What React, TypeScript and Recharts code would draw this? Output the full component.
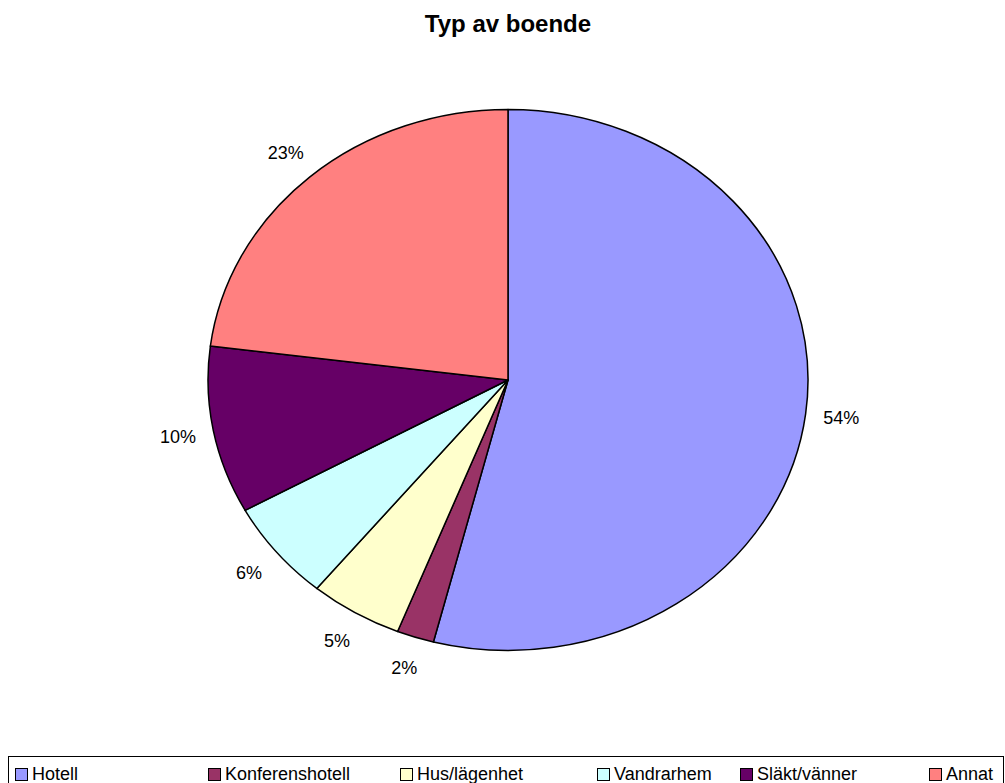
import React from 'react';
import { PieChart, Pie, Cell, Legend } from 'recharts';

const categories = ['Hotell', 'Konferenshotell', 'Hus/lägenhet', 'Vandrarhem', 'Släkt/vänner', 'Annat'];
const shares = [54, 2, 5, 6, 10, 23];
const colors = ['#9999FF', '#993366', '#FFFFCC', '#CCFFFF', '#660066', '#FF8080'];

// legend item left edges, as in the original sheet
const legendX = [14, 207, 399, 596, 739, 928];

const data = categories.map((name, i) => ({ name, value: shares[i] }));

const FONT = '"Liberation Sans", Arial, sans-serif';
const SQUASH = 0.9017; // the pie is drawn as an ellipse

const RAD = Math.PI / 180;

// elliptical sector instead of recharts' circular one
const EllipseSector = (props: any) => {
  const { cx, cy, outerRadius, startAngle, endAngle, fill } = props;
  const rx = outerRadius;
  const ry = outerRadius * SQUASH;
  const x1 = cx + rx * Math.cos(startAngle * RAD);
  const y1 = cy - ry * Math.sin(startAngle * RAD);
  const x2 = cx + rx * Math.cos(endAngle * RAD);
  const y2 = cy - ry * Math.sin(endAngle * RAD);
  const large = Math.abs(endAngle - startAngle) > 180 ? 1 : 0;
  const sweep = startAngle > endAngle ? 1 : 0;
  const d = `M${cx},${cy} L${x1},${y1} A${rx},${ry} 0 ${large} ${sweep} ${x2},${y2} Z`;
  return <path d={d} fill={fill} stroke="#000" strokeWidth={1.5} strokeLinejoin="round" />;
};

const renderLabel = (props: any) => {
  const { cx, cy, midAngle, outerRadius, value } = props;
  const k = 1.12;
  const x = cx + outerRadius * k * Math.cos(midAngle * RAD);
  const y = cy - outerRadius * SQUASH * k * Math.sin(midAngle * RAD);
  return (
    <text x={x} y={y} textAnchor="middle" dominantBaseline="central" fill="#000" fontSize={18} fontFamily={FONT}>
      {value}%
    </text>
  );
};

const renderLegend = () => (
  <div style={{ position: 'relative', width: 996, height: 40, borderTop: '1px solid #000', borderLeft: '1px solid #000', borderRight: '1px solid #000', boxSizing: 'border-box' }}>
    {categories.map((name, i) => (
      <div key={name} style={{ position: 'absolute', left: legendX[i] - 8, top: 8, display: 'flex', alignItems: 'center', fontFamily: FONT, fontSize: 18, color: '#000', whiteSpace: 'nowrap', lineHeight: '18px' }}>
        <span style={{ display: 'inline-block', width: 11, height: 11, background: colors[i], border: '1.5px solid #000', marginRight: 4 }} />
        {name}
      </div>
    ))}
  </div>
);

const App: React.FC = () => {
  return (
    <div style={{ position: 'absolute', left: 0, top: 0, width: 1005, height: 783, background: '#fff', overflow: 'hidden' }}>
      <PieChart width={1005} height={783} margin={{ top: 0, right: 0, bottom: 0, left: 0 }}>
        <text x={508} y={32} textAnchor="middle" fontFamily={FONT} fontSize={24} fontWeight="bold" fill="#000">
          Typ av boende
        </text>
        <Pie
          data={data}
          dataKey="value"
          nameKey="name"
          cx={508}
          cy={380}
          outerRadius={300}
          startAngle={90}
          endAngle={-270}
          label={renderLabel}
          labelLine={false}
          shape={EllipseSector}
          inactiveShape={EllipseSector}
          activeShape={EllipseSector}
          isAnimationActive={false}
        >
          {data.map((d, i) => (
            <Cell key={d.name} fill={colors[i]} />
          ))}
        </Pie>
        <Legend content={renderLegend} wrapperStyle={{ position: 'absolute', left: 8, top: 756, width: 996 }} />
      </PieChart>
    </div>
  );
};

export default App;
